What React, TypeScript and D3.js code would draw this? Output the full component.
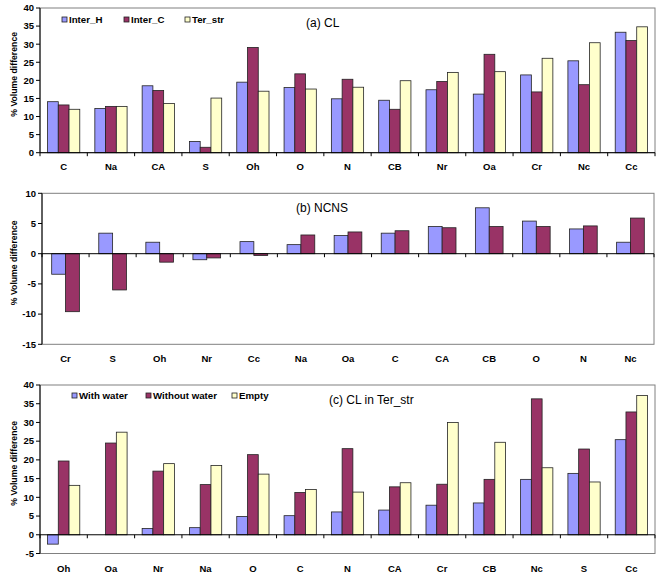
import React from "react";
import * as d3 from "d3";

// ---------- Data ----------
const catsA = ["C", "Na", "CA", "S", "Oh", "O", "N", "CB", "Nr", "Oa", "Cr", "Nc", "Cc"];
const seriesNamesA = ["Inter_H", "Inter_C", "Ter_str"];
const interHA = [14.1, 12.2, 18.5, 3.1, 19.5, 18.0, 14.9, 14.5, 17.4, 16.2, 21.5, 25.4, 33.3];
const interCA = [13.2, 12.8, 17.2, 1.5, 29.1, 21.8, 20.3, 12.0, 19.7, 27.2, 16.8, 18.8, 31.0];
const terStrA = [12.0, 12.8, 13.6, 15.1, 17.0, 17.6, 18.1, 19.9, 22.2, 22.4, 26.1, 30.4, 34.8];
const ticksA = [0, 5, 10, 15, 20, 25, 30, 35, 40];

const catsB = ["Cr", "S", "Oh", "Nr", "Cc", "Na", "Oa", "C", "CA", "CB", "O", "N", "Nc"];
const interHB = [-3.4, 3.4, 1.9, -1.0, 2.0, 1.5, 3.0, 3.4, 4.5, 7.6, 5.4, 4.1, 1.9];
const interCB = [-9.6, -6.0, -1.4, -0.7, -0.3, 3.1, 3.6, 3.8, 4.3, 4.5, 4.5, 4.6, 5.9];
const ticksB = [-15, -10, -5, 0, 5, 10];

const catsC = ["Oh", "Oa", "Nr", "Na", "O", "C", "N", "CA", "Cr", "CB", "Nc", "S", "Cc"];
const seriesNamesC = ["With water", "Without water", "Empty"];
const withWaterC = [-2.5, 0, 1.7, 1.9, 4.9, 5.1, 6.1, 6.6, 7.9, 8.5, 14.8, 16.4, 25.4];
const withoutWaterC = [19.7, 24.5, 17.0, 13.4, 21.4, 11.3, 23.0, 12.8, 13.5, 14.8, 36.3, 22.9, 32.8];
const emptyC = [13.2, 27.4, 19.0, 18.5, 16.2, 12.1, 11.4, 13.9, 30.0, 24.7, 17.9, 14.1, 37.2];
const ticksC = [-5, 0, 5, 10, 15, 20, 25, 30, 35, 40];

const COLORS = ["#9999FF", "#993366", "#FFFFCC"];
const FONT = "'Liberation Sans', Arial, sans-serif";

type Legend = { names: string[]; markerX: number[]; y: number };

type PanelProps = {
  cats: string[];
  series: number[][];
  domain: [number, number];
  ticks: number[];
  left: number;
  right: number;
  top: number;
  bottom: number;
  title: string;
  titleX: number;
  titleY: number;
  labelY: number;
  legend?: Legend;
};

function Panel(p: PanelProps) {
  const y = d3.scaleLinear().domain(p.domain).range([p.bottom, p.top]);
  const x0 = d3.scaleBand<string>().domain(p.cats).range([p.left, p.right]).paddingInner(0).paddingOuter(0);
  const n = p.series.length;
  const bw = x0.bandwidth() / (n + 1.4);
  const groupW = bw * n;
  const y0 = y(0);
  const catEdges = p.cats.map((c) => x0(c) as number).concat([p.right]);
  const midY = (p.top + p.bottom) / 2;
  return (
    <g>
      {/* plot border */}
      <rect x={p.left} y={p.top} width={p.right - p.left} height={p.bottom - p.top} fill="white" stroke="#808080" strokeWidth={1} />
      {/* bars */}
      {p.series.map((vals, si) =>
        vals.map((v, ci) => {
          const cx = (x0(p.cats[ci]) as number) + x0.bandwidth() / 2;
          const bx = cx - groupW / 2 + si * bw;
          const yv = y(v);
          const h = Math.abs(yv - y0);
          if (h < 0.01) return null;
          return (
            <rect key={`${si}-${ci}`} x={bx} y={Math.min(yv, y0)} width={bw} height={h}
              fill={COLORS[si]} stroke="#222" strokeWidth={0.8} />
          );
        })
      )}
      {/* x axis at zero */}
      <line x1={p.left} x2={p.right} y1={y0} y2={y0} stroke="#000" strokeWidth={1} />
      {catEdges.map((ex, i) => (
        <line key={`xt${i}`} x1={ex} x2={ex} y1={y0} y2={y0 + 3.5} stroke="#000" strokeWidth={1} />
      ))}
      {/* y axis */}
      <line x1={p.left} x2={p.left} y1={p.top} y2={p.bottom} stroke="#000" strokeWidth={1} />
      {p.ticks.map((t) => (
        <g key={`yt${t}`}>
          <line x1={p.left - 4} x2={p.left} y1={y(t)} y2={y(t)} stroke="#000" strokeWidth={1} />
          <text x={p.left - 6} y={y(t)} dy="0.35em" textAnchor="end" fontSize={9.5} fontWeight="bold" fontFamily={FONT} fill="#000">
            {t}
          </text>
        </g>
      ))}
      {/* category labels */}
      {p.cats.map((c) => (
        <text key={`cl${c}`} x={(x0(c) as number) + x0.bandwidth() / 2} y={p.labelY} textAnchor="middle"
          fontSize={9.5} fontWeight="bold" fontFamily={FONT} fill="#000">
          {c}
        </text>
      ))}
      {/* y label */}
      <text transform={`translate(16.5,${midY - 6}) rotate(-90)`} textAnchor="middle" fontSize={8.7}
        fontWeight="bold" fontFamily={FONT} fill="#000">
        % Volume difference
      </text>
      {/* title */}
      <text x={p.titleX} y={p.titleY} fontSize={12} fontFamily={FONT} fill="#000">
        {p.title}
      </text>
      {/* legend */}
      {p.legend &&
        p.legend.names.map((nm, i) => (
          <g key={`lg${i}`}>
            <rect x={p.legend!.markerX[i]} y={p.legend!.y - 6} width={5} height={5} fill={COLORS[i]} stroke="#222" strokeWidth={0.8} />
            <text x={p.legend!.markerX[i] + 7} y={p.legend!.y} fontSize={9.7} fontWeight="bold" fontFamily={FONT} fill="#000">
              {nm}
            </text>
          </g>
        ))}
    </g>
  );
}

export default function App() {
  return (
    <svg width={661} height={574} style={{ position: "absolute", left: 0, top: 0, background: "white" }}>
      <rect x={0} y={0} width={661} height={574} fill="white" />
      <Panel
        cats={catsA}
        series={[interHA, interCA, terStrA]}
        domain={[0, 40]}
        ticks={ticksA}
        left={40}
        right={655}
        top={8}
        bottom={152.7}
        title="(a) CL"
        titleX={306}
        titleY={26.5}
        labelY={170}
        legend={{ names: seriesNamesA, markerX: [62, 124, 185], y: 23 }}
      />
      <Panel
        cats={catsB}
        series={[interHB, interCB]}
        domain={[-15, 10]}
        ticks={ticksB}
        left={42}
        right={654}
        top={193.3}
        bottom={344.3}
        title="(b) NCNS"
        titleX={296}
        titleY={211.5}
        labelY={361.5}
      />
      <Panel
        cats={catsC}
        series={[withWaterC, withoutWaterC, emptyC]}
        domain={[-5, 40]}
        ticks={ticksC}
        left={40}
        right={655}
        top={385}
        bottom={553.5}
        title="(c) CL in Ter_str"
        titleX={329}
        titleY={404}
        labelY={571.5}
        legend={{ names: seriesNamesC, markerX: [72, 146, 232], y: 399 }}
      />
    </svg>
  );
}
